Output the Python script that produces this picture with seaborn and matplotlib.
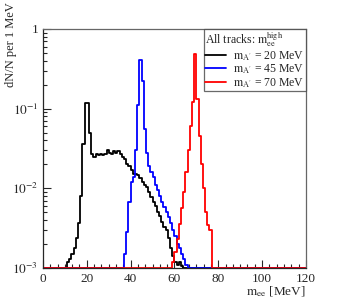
import numpy as np
import pandas as pd
import seaborn as sns
import matplotlib.pyplot as plt
from matplotlib.ticker import FixedLocator, MultipleLocator, LogLocator, NullFormatter

# 1 MeV bins from 0 to 120 MeV, values given from a start bin on
black_start = 11
black_vals = [0.0012, 0.0013, 0.0015, 0.0018, 0.0024, 0.0037, 0.008, 0.036, 0.117, 0.117,
              0.05, 0.027, 0.025, 0.027, 0.026, 0.027, 0.026, 0.027, 0.030, 0.028,
              0.027, 0.029, 0.028, 0.029, 0.027, 0.025, 0.023, 0.020, 0.019, 0.017,
              0.015, 0.015, 0.0145, 0.0135, 0.012, 0.011, 0.0105, 0.009, 0.0078, 0.0068,
              0.006, 0.0051, 0.0045, 0.0038, 0.0033, 0.003, 0.0024, 0.0018, 0.0014, 0.0012,
              0.0011, 0.0012, 0.00105]
blue_start = 37
blue_vals = [0.0015, 0.0028, 0.0068, 0.012, 0.014, 0.03, 0.11, 0.41, 0.22, 0.055,
             0.028, 0.019, 0.016, 0.014, 0.011, 0.0095, 0.008, 0.0068, 0.0058, 0.005,
             0.0043, 0.0037, 0.003, 0.0025, 0.002, 0.0018, 0.0015, 0.0013, 0.0011]
red_start = 59
red_vals = [0.0012, 0.0016, 0.0023, 0.0036, 0.0056, 0.009, 0.016, 0.03, 0.06, 0.12,
            0.48, 0.13, 0.045, 0.02, 0.01, 0.005, 0.0035, 0.003]

masses = [20, 45, 70]
colors = ["black", "blue", "red"]

edges = np.arange(0, 121, 1)


def full_hist(start, vals):
    h = np.zeros(120)
    h[start:start + len(vals)] = vals
    return h


hists = [full_hist(black_start, black_vals),
         full_hist(blue_start, blue_vals),
         full_hist(red_start, red_vals)]

sns.set_style("ticks")
plt.rcParams["font.family"] = ["Liberation Serif", "DejaVu Serif"]
plt.rcParams["mathtext.fontset"] = "stix"

fig = plt.figure(figsize=(3.41, 2.98), dpi=100)
ax = fig.add_axes([0.126, 0.101, 0.771, 0.802])

# empty bins drawn on the lower edge, like ROOT does on a log axis
ymin = 1e-3
for m, c, h in zip(masses, colors, hists):
    y = np.clip(h, ymin, None)
    df = pd.DataFrame({"x": edges, "y": np.append(y, y[-1])})
    sns.lineplot(data=df, x="x", y="y", ax=ax, color=c, lw=1.3, estimator=None,
                 drawstyle="steps-post", label=r"$\mathrm{m_{A'}}$ = " + f"{m} MeV")

ax.set_yscale("log")
ax.set_xlim(0, 120)
ax.set_ylim(ymin, 1)

ax.xaxis.set_major_locator(MultipleLocator(20))
ax.xaxis.set_minor_locator(MultipleLocator(20 / 6))
ax.yaxis.set_major_locator(FixedLocator([1e-3, 1e-2, 1e-1, 1]))
ax.set_yticklabels(["$10^{-3}$", "$10^{-2}$", "$10^{-1}$", "1"])
ax.yaxis.set_minor_locator(LogLocator(base=10, subs=np.arange(2, 10)))
ax.yaxis.set_minor_formatter(NullFormatter())
ax.tick_params(which="both", direction="in", labelsize=9.5, top=False, right=False)
ax.tick_params(which="major", length=6, width=0.8)
ax.tick_params(which="minor", length=3, width=0.8)

for s in ["top", "right"]:
    ax.spines[s].set_color("#666666")
for s in ax.spines.values():
    s.set_linewidth(0.9)

ax.set_xlabel(r"$\mathrm{m_{ee}}$ [MeV]", fontsize=9.5, ha="right")
ax.xaxis.set_label_coords(1.0, -0.068)
ax.set_ylabel("dN/N per 1 MeV", fontsize=9, ha="right")
ax.yaxis.set_label_coords(-0.1, 1.11)

leg = ax.legend(title=r"All tracks: $\mathrm{m_{ee}^{high}}$", loc="upper right",
                bbox_to_anchor=(1.0, 1.0), fontsize=8.5, title_fontsize=8.5,
                frameon=True, fancybox=False, edgecolor="#444444",
                borderaxespad=0, handlelength=1.8, labelspacing=0.0,
                borderpad=0.1, handletextpad=0.6)
leg._legend_box.align = "left"
leg.get_frame().set_linewidth(0.9)

fig.savefig("out.png", dpi=100)
